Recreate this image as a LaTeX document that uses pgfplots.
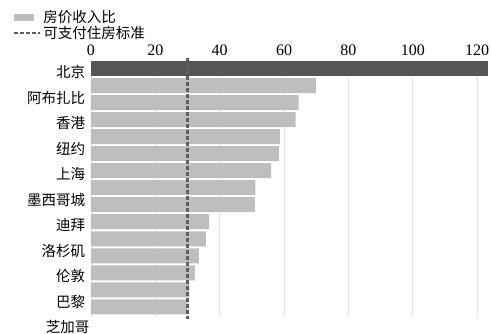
\documentclass[border=0pt]{standalone}
\usepackage{fontspec}
\setmainfont{Liberation Serif}
\newfontfamily\cjk{Noto Sans CJK SC}
\usepackage{pgfplots}
\pgfplotsset{compat=1.18}
\definecolor{barGray}{RGB}{190,190,190}
\definecolor{barDark}{RGB}{85,85,85}
\definecolor{dashGray}{RGB}{95,95,95}
\definecolor{gridGray}{RGB}{228,228,228}
\begin{document}
\begin{tikzpicture}
\begin{axis}[
  name=ax,
  scale only axis,
  width=399pt, height=256pt,
  xmin=0, xmax=124,
  ymin=-0.45, ymax=14.6,
  y dir=reverse,
  xbar, bar shift=0pt, bar width=15pt,
  xtick={0,20,40,60,80,100,120},
  xticklabel pos=upper,
  /pgf/number format/assume math mode=true,
  xticklabel style={font=\fontsize{16}{16}\selectfont, yshift=2pt},
  ytick={0.2,1.7,3.2,4.7,6.2,7.7,9.2,10.7,12.2,13.7},
  yticklabels={北京,阿布扎比,香港,纽约,上海,墨西哥城,迪拜,洛杉矶,伦敦,巴黎},
  yticklabel style={font=\cjk\fontsize{14.5}{14.5}\selectfont, xshift=2pt},
  axis line style={draw=none},
  tick style={draw=none},
  xmajorgrids,
  major grid style={gridGray, line width=0.8pt},
  clip=false,
  legend style={at={(axis description cs:0,1)}, anchor=north west,
    xshift=-78pt, yshift=53pt, draw=none, fill=none,
    font=\cjk\fontsize{14.5}{15}\selectfont, inner sep=0pt,
    row sep=-2pt, cells={anchor=west}},
  legend cell align=left,
]
\addplot[draw=none, fill=barGray, area legend,
  legend image code/.code={\fill[barGray] (0pt,-3.5pt) rectangle (20pt,3.5pt); \path (0pt,0pt) -- (26pt,0pt);}]
  coordinates {(69.9,1) (64.5,2) (63.6,3) (58.7,4) (58.4,5) (56.0,6) (51.1,7) (50.9,8) (36.7,9) (35.7,10) (33.5,11) (32.3,12) (30.6,13) (30.0,14)};
\addlegendentry{房价收入比}
\addplot[draw=none, fill=barDark, forget plot]
  coordinates {(123.4,0)};
\addplot[draw=dashGray, line width=2.2pt, dash pattern=on 4pt off 2pt, sharp plot,
  legend image code/.code={\draw[dashGray, line width=2.2pt, dash pattern=on 4pt off 2pt] (0pt,0pt) -- (20pt,0pt); \path (0pt,0pt) -- (26pt,0pt);}]
  coordinates {(30,-0.65) (30,14.7)};
\addlegendentry{可支付住房标准}
\node[anchor=east, font=\cjk\fontsize{14.5}{14.5}\selectfont, xshift=2pt] at (axis cs:0,15.19) {芝加哥};
\end{axis}
\pgfresetboundingbox
\path[use as bounding box] ([xshift=-91pt,yshift=61pt]ax.north west) rectangle ([xshift=1pt,yshift=-17pt]ax.south east);
\end{tikzpicture}
\end{document}
